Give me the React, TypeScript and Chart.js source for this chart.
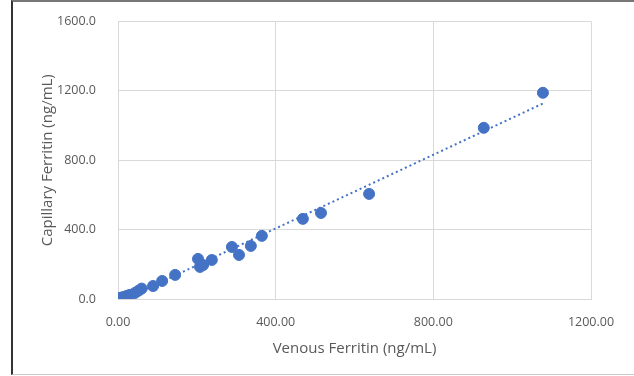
import React, { useEffect, useRef } from "react";
import { Chart, registerables } from "chart.js";

Chart.register(...registerables);

const venous = [1078, 928, 637, 515, 469, 365, 337, 289, 307, 238, 203, 208, 216, 145, 112, 89, 60, 52, 43, 30, 22, 15, 8, 4];
const capillary = [1189, 987, 606, 496, 462, 364, 306, 300, 254, 225, 231, 185, 196, 139, 104, 75, 60, 48, 35, 24, 18, 12, 8, 5];
const xTicks = [0, 400, 800, 1200];
const yTicks = [0, 400, 800, 1200, 1600];
const xTitle = "Venous Ferritin (ng/mL)";
const yTitle = "Capillary Ferritin (ng/mL)";

function fitLine(xs: number[], ys: number[]) {
  const n = xs.length;
  const mx = xs.reduce((a, b) => a + b, 0) / n;
  const my = ys.reduce((a, b) => a + b, 0) / n;
  let sxy = 0, sxx = 0;
  for (let i = 0; i < n; i++) {
    sxy += (xs[i] - mx) * (ys[i] - my);
    sxx += (xs[i] - mx) ** 2;
  }
  const m = sxy / sxx;
  const b = my - m * mx;
  const x0 = Math.min(...xs), x1 = Math.max(...xs);
  return [{ x: x0, y: m * x0 + b }, { x: x1, y: m * x1 + b }];
}

export default function App() {
  const ref = useRef<HTMLCanvasElement>(null);
  useEffect(() => {
    const blue = "#4472C4";
    const font = "'Open Sans', 'Liberation Sans', sans-serif";
    const chart = new Chart(ref.current!, {
      type: "scatter",
      data: {
        datasets: [
          {
            data: venous.map((v, i) => ({ x: v, y: capillary[i] })),
            backgroundColor: blue,
            borderColor: blue,
            pointRadius: 5.5,
            order: 1,
          },
          {
            type: "line",
            data: fitLine(venous, capillary),
            borderColor: blue,
            borderWidth: 2,
            borderDash: [2, 3],
            pointRadius: 0,
            fill: false,
            order: 2,
          } as any,
        ],
      },
      options: {
        animation: false,
        responsive: false,
        layout: { padding: { top: 15, right: 43, left: 0, bottom: 0 } },
        plugins: { legend: { display: false }, tooltip: { enabled: false } },
        scales: {
          x: {
            type: "linear",
            min: 0,
            max: 1200,
            afterBuildTicks: (s: any) => { s.ticks = xTicks.map((v) => ({ value: v })); },
            afterFit: (s: any) => { s.height = 77; },
            grid: { color: "#d9d9d9", drawTicks: false, lineWidth: 1 },
            border: { display: true, color: "#d9d9d9" },
            ticks: {
              padding: 16,
              color: "#595959",
              font: { family: font, size: 12.5 },
              callback: (v: any) => Number(v).toFixed(2),
            },
            title: {
              display: true,
              text: xTitle,
              color: "#595959",
              font: { family: font, size: 15 },
              padding: { top: 0, bottom: 18 },
            },
          },
          y: {
            type: "linear",
            min: 0,
            max: 1600,
            afterBuildTicks: (s: any) => { s.ticks = yTicks.map((v) => ({ value: v })); },
            afterFit: (s: any) => { s.width = 118; },
            grid: { color: "#d9d9d9", drawTicks: false, lineWidth: 1 },
            border: { display: true, color: "#d9d9d9" },
            ticks: {
              padding: 22,
              color: "#595959",
              font: { family: font, size: 12.5 },
              callback: (v: any) => Number(v).toFixed(1),
            },
            title: {
              display: true,
              text: yTitle,
              color: "#595959",
              font: { family: font, size: 15 },
              padding: { top: 39, bottom: 0 },
            },
          },
        },
      },
    });
    return () => chart.destroy();
  }, []);

  return (
    <div style={{ position: "absolute", left: 0, top: 0, width: 634, height: 376, background: "#fff", overflow: "hidden" }}>
      <canvas ref={ref} width={634} height={384} style={{ position: "absolute", left: 0, top: -8, width: 634, height: 384 }} />
      <div
        style={{
          position: "absolute",
          left: 11,
          top: 0,
          width: 640,
          height: 372,
          borderLeft: "2px solid #333",
          borderTop: "2px solid #777",
          borderBottom: "1px solid #ccc",
          pointerEvents: "none",
        }}
      />
    </div>
  );
}
